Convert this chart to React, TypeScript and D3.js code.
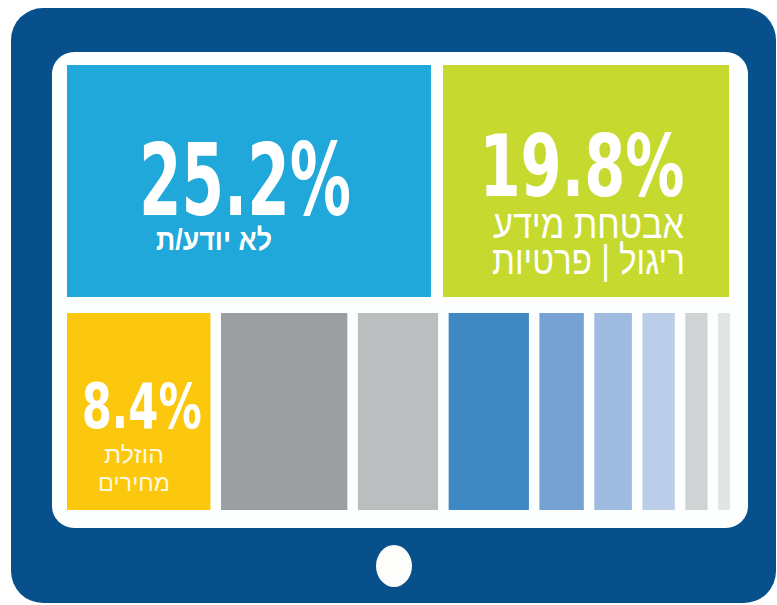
import * as d3 from "d3";
import { useEffect, useRef } from "react";

// top row: the two labelled shares
const topValues = [25.2, 19.8];
const topNumbers = ["25.2%", "19.8%"];
const topLabels = [["לא יודע/ת"], ["אבטחת מידע", "ריגול | פרטיות"]];
const topColors = ["#1fa8d9", "#c6d92e"];

// bottom row: one labelled share and the unlabelled rest
const bottomValues = [8.4, 7.4, 4.7, 4.7, 2.6, 2.2, 1.9, 1.3, 0.7];
const bottomNumbers = ["8.4%"];
const bottomLabels = [["הוזלת", "מחירים"]];
const bottomColors = ["#fcc80e", "#9d9ea1", "#bcbdbf", "#3e88c3", "#76a1d3", "#9fbbe0", "#bccde9", "#d1d2d4", "#e3e4e5"];

const W = 777;
const H = 605;
const NUM_FONT = "'DejaVu Sans Condensed', 'Liberation Sans Narrow', 'Liberation Sans', sans-serif";
const HEB_FONT = "'Liberation Sans Narrow', 'Liberation Sans', 'DejaVu Sans Condensed', sans-serif";

const layoutRow = (values: number[], x0: number, x1: number, gap: number) => {
    const total = d3.sum(values);
    const x = d3.scaleLinear()
        .domain([0, total])
        .range([x0, x1 - gap * (values.length - 1)]);
    let acc = 0;
    return values.map((v, i) => {
        const a = x(acc) + i * gap;
        acc += v;
        const b = x(acc) + i * gap;
        return { x: a, w: b - a };
    });
};

const App = () => {
    const ref = useRef<SVGSVGElement>(null);

    useEffect(() => {
        const svg = d3.select(ref.current);
        svg.selectAll("*").remove();

        // tablet body
        svg.append("rect")
            .attr("x", 11).attr("y", 8)
            .attr("width", 765).attr("height", 595)
            .attr("rx", 32)
            .attr("fill", "#07508b");

        // screen
        svg.append("rect")
            .attr("x", 52).attr("y", 52)
            .attr("width", 696).attr("height", 476)
            .attr("rx", 22)
            .attr("fill", "#fdfefe");

        // home button
        svg.append("ellipse")
            .attr("cx", 394).attr("cy", 566)
            .attr("rx", 18).attr("ry", 21)
            .attr("fill", "#fdfdfb");

        const rows = [
            { values: topValues, colors: topColors, y: 65, h: 232, x0: 67, x1: 729, gap: 12 },
            { values: bottomValues, colors: bottomColors, y: 313, h: 197, x0: 67, x1: 730, gap: 10.5 }
        ];

        const cells = rows.map(r => {
            const boxes = layoutRow(r.values, r.x0, r.x1, r.gap);
            svg.append("g")
                .selectAll("rect")
                .data(boxes)
                .join("rect")
                .attr("x", d => d.x)
                .attr("y", r.y)
                .attr("width", d => d.w)
                .attr("height", r.h)
                .attr("fill", (d, i) => r.colors[i]);
            return boxes;
        });

        const txt = (x: number, y: number, s: string, font: string, weight: string,
            size: number, len: number, anchor: string, op = 1) => {
            svg.append("text")
                .attr("x", x).attr("y", y)
                .attr("text-anchor", anchor)
                .attr("font-family", font)
                .attr("font-weight", weight)
                .attr("font-size", size)
                .attr("fill", "#ffffff")
                .attr("fill-opacity", op)
                .attr("textLength", len)
                .attr("lengthAdjust", "spacingAndGlyphs")
                .text(s);
        };

        const blue = cells[0][0];
        const green = cells[0][1];
        const yellow = cells[1][0];

        // blue tile
        txt(blue.x + blue.w / 2 - 4, 215, topNumbers[0], NUM_FONT, "bold", 100, 212, "middle");
        txt(272, 250, topLabels[0][0], HEB_FONT, "bold", 30, 116, "end");

        // green tile
        txt(green.x + green.w / 2 - 4, 196, topNumbers[1], NUM_FONT, "bold", 86, 205, "middle");
        txt(684, 238, topLabels[1][0], HEB_FONT, "normal", 40, 191, "end");
        txt(685, 274, topLabels[1][1], HEB_FONT, "normal", 40, 193, "end");

        // yellow tile
        txt(yellow.x + yellow.w / 2 + 3, 428, bottomNumbers[0], NUM_FONT, "bold", 62, 120, "middle");
        txt(134, 463, bottomLabels[0][0], HEB_FONT, "normal", 24, 60, "middle", 0.9);
        txt(134, 491, bottomLabels[0][1], HEB_FONT, "normal", 24, 72, "middle", 0.9);
    }, []);

    return (
        <svg ref={ref} width={W} height={H}
            style={{ position: "absolute", left: 0, top: 0, background: "#ffffff" }} />
    );
};

export default App;
